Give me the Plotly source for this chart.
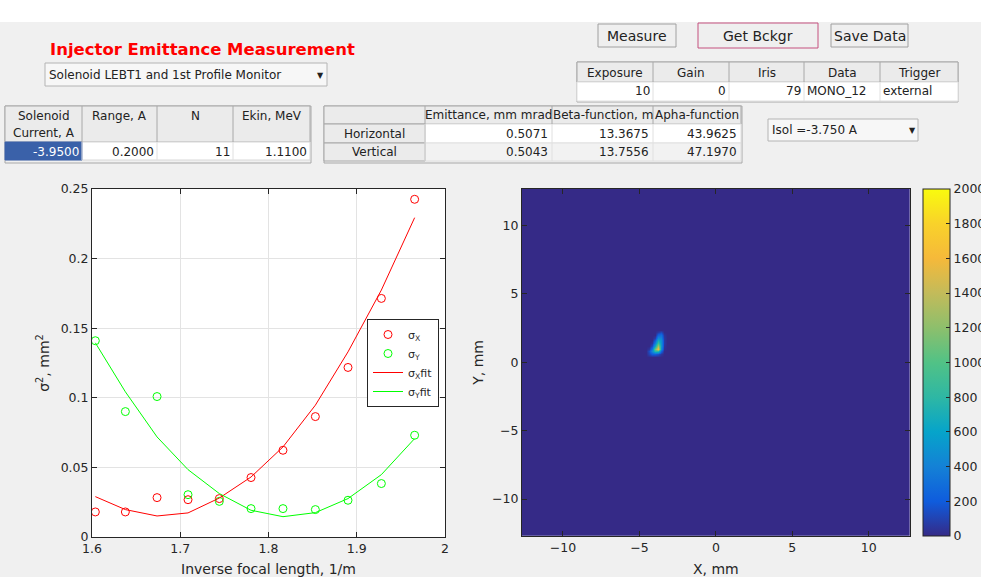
import numpy as np
import plotly.graph_objects as go

W, H = 981, 577

# ---------------- data ----------------
inv_focal = [1.6038, 1.6378, 1.6737, 1.7088, 1.7443, 1.7802, 1.8164, 1.8531, 1.8901, 1.9279, 1.9656]
sigma_x2 = [0.0180, 0.0180, 0.0283, 0.0268, 0.0276, 0.0427, 0.0623, 0.0865, 0.1218, 0.1714, 0.2426]
sigma_y2 = [0.1410, 0.0901, 0.1009, 0.0304, 0.0256, 0.0204, 0.0204, 0.0197, 0.0264, 0.0384, 0.0731]
sigma_x2_fit = [0.0290, 0.0197, 0.0151, 0.0173, 0.0280, 0.0431, 0.0647, 0.0947, 0.1330, 0.1774, 0.2294]
sigma_y2_fit = [0.1395, 0.1043, 0.0719, 0.0484, 0.0312, 0.0192, 0.0146, 0.0175, 0.0276, 0.0448, 0.0707]

left_xticks = [1.6, 1.7, 1.8, 1.9, 2.0]
left_xticklabels = ["1.6", "1.7", "1.8", "1.9", "2"]
left_yticks = [0, 0.05, 0.1, 0.15, 0.2, 0.25]
left_yticklabels = ["0", "0.05", "0.1", "0.15", "0.2", "0.25"]

# camera image: background pixels are 0; the beam spot values
spot_x = [-4.6, -4.4, -4.2, -4.0, -3.8, -3.6, -3.4, -3.2]
spot_y = [2.4, 2.2, 2.0, 1.8, 1.6, 1.4, 1.2, 1.0, 0.8, 0.6, 0.4]
spot_vals = [
    [0, 0, 0, 0, 0, 0, 0, 0],
    [0, 0, 0, 0, 60, 120, 0, 0],
    [0, 0, 0, 0, 250, 300, 40, 0],
    [0, 0, 0, 80, 450, 400, 60, 0],
    [0, 0, 0, 200, 650, 480, 60, 0],
    [0, 0, 40, 380, 900, 500, 60, 0],
    [0, 0, 150, 650, 1300, 520, 40, 0],
    [0, 60, 350, 1100, 1650, 450, 20, 0],
    [0, 150, 450, 800, 800, 250, 0, 0],
    [0, 100, 200, 200, 150, 50, 0, 0],
    [0, 0, 0, 0, 0, 0, 0, 0],
]
img_ticks = [-10, -5, 0, 5, 10]
cbar_ticks = [0, 200, 400, 600, 800, 1000, 1200, 1400, 1600, 1800, 2000]

sol_headers = [["Solenoid", "Current, A"], ["Range, A"], ["N"], ["Ekin, MeV"]]
sol_values = ["-3.9500", "0.2000", "11", "1.1100"]
cam_headers = ["Exposure", "Gain", "Iris", "Data", "Trigger"]
cam_values = ["10", "0", "79", "MONO_12", "external"]
res_headers = ["", "Emittance, mm mrad", "Beta-function, m", "Apha-function"]
res_rows = ["Horizontal", "Vertical"]
res_values = [["0.5071", "13.3675", "43.9625"], ["0.5043", "13.7556", "47.1970"]]
buttons = ["Measure", "Get Bckgr", "Save Data"]
title_text = "Injector Emittance Measurement"
dropdown1 = "Solenoid LEBT1 and 1st Profile Monitor"
dropdown2 = "Isol =-3.750 A"

# ---------------- image grid ----------------
grid = np.round(np.arange(-63, 64) * 0.2, 2)
z = np.zeros((grid.size, grid.size))
for i, yv in enumerate(spot_y):
    for j, xv in enumerate(spot_x):
        yi = int(np.argmin(np.abs(grid - yv)))
        xj = int(np.argmin(np.abs(grid - xv)))
        z[yi, xj] = spot_vals[i][j]

parula = [
    [0.0, "#352a87"], [0.1, "#0f5cdd"], [0.2, "#1481d6"], [0.3, "#06a4ca"],
    [0.4, "#2eb7a4"], [0.5, "#51c286"], [0.6, "#8dbf6c"], [0.7, "#c3bb5a"],
    [0.8, "#f5b93a"], [0.9, "#f9d22a"], [1.0, "#f9fb0e"],
]

# ---------------- helpers ----------------
def px(x):
    return x / W

def py(y):
    return 1 - y / H

shapes = []
annotations = []

def rect(x0, y0, x1, y1, fill, line="#9a9a9a", lw=1, layer="above"):
    shapes.append(dict(type="rect", xref="paper", yref="paper",
                       x0=px(x0), x1=px(x1), y0=py(y1), y1=py(y0),
                       fillcolor=fill, line=dict(color=line, width=lw), layer=layer))

def vline(x, y0, y1, color, lw=1):
    shapes.append(dict(type="line", xref="paper", yref="paper",
                       x0=px(x), x1=px(x), y0=py(y0), y1=py(y1),
                       line=dict(color=color, width=lw)))

UIFONT = "DejaVu Sans"
TXT = "#222222"

def text(x, y, s, size=12, color=TXT, anchor="left", family=UIFONT, bold=False):
    if bold:
        s = "<b>" + s + "</b>"
    annotations.append(dict(xref="paper", yref="paper", x=px(x), y=py(y), text=s,
                            showarrow=False, xanchor=anchor, yanchor="middle",
                            font=dict(family=family, size=size, color=color),
                            borderpad=0))

BG = "#f0f0f0"
HEAD = "#ebebeb"

# top white band
rect(0, 0, W, 22, "#ffffff", line="#ffffff", lw=0, layer="below")

# title
text(49, 49.5, title_text, size=16.5, color="#ff0000", bold=True)

# dropdown 1
rect(45, 63, 327, 86, "#f7f7f7", line="#b4b4b4")
text(48, 75, dropdown1, size=12)
text(320, 75, "▼", size=8, anchor="center")

# dropdown 2
rect(768, 119, 918, 141, "#f7f7f7", line="#b4b4b4")
text(771, 130, dropdown2, size=12)
text(912, 130, "▼", size=8, anchor="center")

# buttons
btn_boxes = [(598, 24, 676, 47), (698, 23, 818, 48), (831, 24, 908, 47)]
for (x0, y0, x1, y1), lab in zip(btn_boxes, buttons):
    border = "#c4507e" if lab == "Get Bckgr" else "#a0a0a0"
    rect(x0, y0, x1, y1, "#efefef", line=border)
    text((x0 + x1) / 2, (y0 + y1) / 2, lab, size=14, anchor="center")

# solenoid table
sx = [5, 82, 157, 233, 310]
rect(5, 106, 311, 163, BG, line="#a8a8a8")
rect(5, 106, 310, 142, HEAD, line="#a8a8a8")
rect(5, 142, 310, 160, "#ffffff", line="#d8d8d8")
rect(5, 142, 82, 160, "#3a61a9", line="#3a61a9")
for xv in sx[1:-1]:
    vline(xv, 106, 142, "#a8a8a8")
    vline(xv, 142, 160, "#e0e0e0")
for k in range(4):
    cx = (sx[k] + sx[k + 1]) / 2
    for li, line_txt in enumerate(sol_headers[k]):
        text(cx, 116 + 17 * li, line_txt, size=12, anchor="center")
    text(sx[k + 1] - 2, 151.5, sol_values[k], size=12, anchor="right",
         color="#ffffff" if k == 0 else TXT)

# results table
rx = [324, 425, 552, 653, 741]
rect(324, 106, 742, 163, BG, line="#a8a8a8")
rect(324, 106, 741, 124, HEAD, line="#a8a8a8")
rect(425, 124, 741, 143, "#ffffff", line="#e0e0e0")
rect(425, 143, 741, 161, "#f2f2f2", line="#e0e0e0")
rect(324, 124, 425, 143, HEAD, line="#a8a8a8")
rect(324, 143, 425, 161, HEAD, line="#a8a8a8")
for xv in rx[1:-1]:
    vline(xv, 106, 124, "#a8a8a8")
    vline(xv, 124, 161, "#e0e0e0")
for k in range(1, 4):
    text((rx[k] + rx[k + 1]) / 2, 115.5, res_headers[k], size=12, anchor="center")
for r, lab in enumerate(res_rows):
    yy = 133.5 + 18.3 * r
    text((rx[0] + rx[1]) / 2, yy, lab, size=12, anchor="center")
    for k in range(3):
        text(rx[k + 2] - 3, yy, res_values[r][k], size=12, anchor="right")

# camera table
cx_ = [577, 653, 729, 804, 880, 958]
rect(577, 62, 958, 102, BG, line="#a8a8a8")
rect(577, 62, 958, 82, HEAD, line="#a8a8a8")
rect(577, 82, 958, 101, "#ffffff", line="#e0e0e0")
for xv in cx_[1:-1]:
    vline(xv, 62, 82, "#a8a8a8")
    vline(xv, 82, 101, "#e0e0e0")
for k in range(5):
    text((cx_[k] + cx_[k + 1]) / 2, 73, cam_headers[k], size=12, anchor="center")
    if k < 3:
        text(cx_[k + 1] - 2, 91, cam_values[k], size=12, anchor="right")
    else:
        text(cx_[k] + 2, 91, cam_values[k], size=12, anchor="left")

# ---------------- figure ----------------
fig = go.Figure()

RED = "#ff0000"
GREEN = "#00ff00"
fig.add_trace(go.Scatter(x=inv_focal, y=sigma_x2, mode="markers", name="σ<sub>X</sub>",
                         marker=dict(symbol="circle-open", size=8, color=RED, line=dict(width=1)),
                         xaxis="x", yaxis="y"))
fig.add_trace(go.Scatter(x=inv_focal, y=sigma_y2, mode="markers", name="σ<sub>Y</sub>",
                         marker=dict(symbol="circle-open", size=8, color=GREEN, line=dict(width=1)),
                         xaxis="x", yaxis="y"))
fig.add_trace(go.Scatter(x=inv_focal, y=sigma_x2_fit, mode="lines", name="σ<sub>X</sub>fit",
                         line=dict(color=RED, width=1), xaxis="x", yaxis="y"))
fig.add_trace(go.Scatter(x=inv_focal, y=sigma_y2_fit, mode="lines", name="σ<sub>Y</sub>fit",
                         line=dict(color=GREEN, width=1), xaxis="x", yaxis="y"))

fig.add_trace(go.Heatmap(x=grid, y=grid, z=z, zmin=0, zmax=2000, colorscale=parula,
                         zsmooth="best", xaxis="x2", yaxis="y2", showlegend=False,
                         colorbar=dict(x=px(923), xanchor="left", y=py(189), yanchor="top",
                                       len=(535.7 - 189) / H, lenmode="fraction",
                                       thickness=27, thicknessmode="pixels",
                                       outlinewidth=1, outlinecolor="#262626",
                                       tickvals=cbar_ticks, ticks="inside", ticklen=4,
                                       tickcolor="#262626",
                                       tickfont=dict(family=UIFONT, size=12.5, color="#262626"),
                                       xpad=0, ypad=0)))

AX = "#262626"
axis_common = dict(showline=True, linecolor=AX, linewidth=1, mirror="ticks", ticks="inside",
                   ticklen=5, tickcolor=AX, tickfont=dict(family=UIFONT, size=12.5, color=AX),
                   zeroline=False, automargin=False)

fig.update_layout(
    width=W, height=H, autosize=False,
    margin=dict(l=0, r=0, t=0, b=0, pad=0, autoexpand=False),
    paper_bgcolor=BG, plot_bgcolor="#ffffff",
    font=dict(family=UIFONT, color=AX),
    xaxis=dict(domain=[px(92), px(445)], range=[1.6, 2.0], tickvals=left_xticks,
               ticktext=left_xticklabels, showgrid=True, gridcolor="#e3e3e3",
               title=dict(text="Inverse focal length, 1/m", font=dict(size=14), standoff=11),
               anchor="y", **axis_common),
    yaxis=dict(domain=[py(537), py(189)], range=[0, 0.25], tickvals=left_yticks,
               ticktext=left_yticklabels, showgrid=True, gridcolor="#e3e3e3",
               title=dict(text="σ<sup>2</sup>, mm<sup>2</sup>", font=dict(size=14), standoff=7),
               anchor="x", **axis_common),
    xaxis2=dict(domain=[px(522), px(909.7)], range=[-12.68, 12.68], tickvals=img_ticks,
                showgrid=False, anchor="y2",
                title=dict(text="X, mm", font=dict(size=14), standoff=11), **axis_common),
    yaxis2=dict(domain=[py(535.7), py(189)], range=[-12.68, 12.68], tickvals=img_ticks,
                showgrid=False, anchor="x2",
                title=dict(text="Y, mm", font=dict(size=14), standoff=5), **axis_common),
    legend=dict(x=px(367), y=py(319), xanchor="left", yanchor="top",
                bgcolor="#ffffff", bordercolor="#262626", borderwidth=1,
                font=dict(family=UIFONT, size=11, color=AX), itemwidth=30,
                tracegroupgap=0),
    shapes=shapes, annotations=annotations,
)

fig.write_html("out.html")
